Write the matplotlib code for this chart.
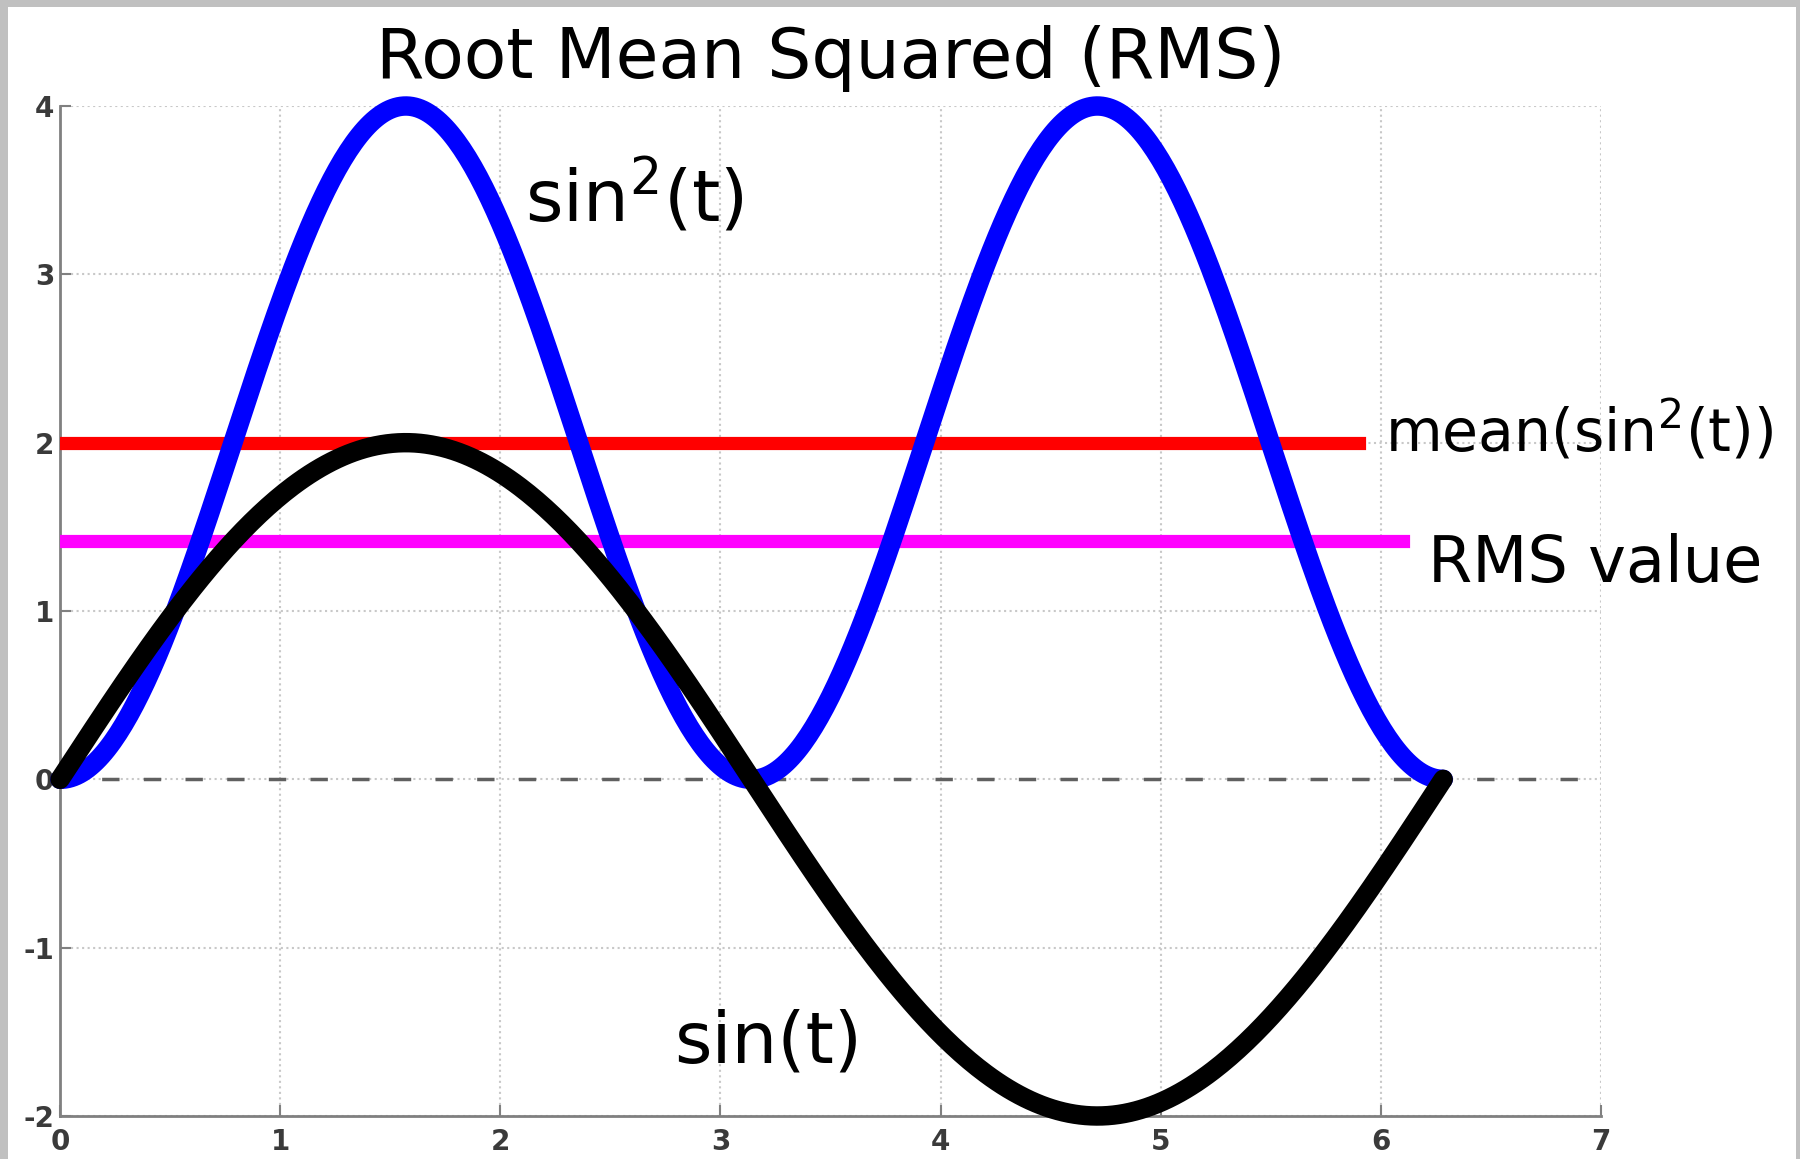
import numpy as np
import matplotlib
matplotlib.use("Agg")
import matplotlib.pyplot as plt
from matplotlib.patches import Rectangle

plt.rcParams['font.family'] = ['DejaVu Sans']
plt.rcParams['mathtext.fontset'] = 'dejavusans'
plt.rcParams['axes.unicode_minus'] = False

# values
t_start = 0.0
t_end = 2 * np.pi
sin_amp = 2.0        # black curve peaks at +/-2
sin2_amp = 4.0       # blue curve peaks at 4
mean_level = 2.0     # red line
rms_level = 1.414    # magenta line
mean_end = 5.9
rms_end = 6.1
zero_end = 6.9

x_ticks = [0, 1, 2, 3, 4, 5, 6, 7]
y_ticks = [-2, -1, 0, 1, 2, 3, 4]

t = np.linspace(t_start, t_end, 500)
sin_t = sin_amp * np.sin(t)
sin2_t = sin2_amp * np.sin(t) ** 2

fig = plt.figure(figsize=(18, 11.59), dpi=100)
fig.patch.set_facecolor('#c0c0c0')
fig.patches.append(Rectangle((8 / 1800, 0), (1796 - 8) / 1800, 1 - 7 / 1159,
                             transform=fig.transFigure, facecolor='white',
                             edgecolor='none', zorder=-10))

ax = fig.add_axes([60 / 1800, 1 - 1116 / 1159, (1601 - 60) / 1800, (1116 - 106) / 1159])
ax.set_facecolor('none')

ax.plot([t_start, zero_end], [0, 0], color='#606060', lw=2.5, dashes=(5, 7), zorder=2)
ax.plot([t_start, mean_end], [mean_level, mean_level], color='#ff0000', lw=9.5, zorder=3)
ax.plot([t_start, rms_end], [rms_level, rms_level], color='#ff00ff', lw=9.5, zorder=3)
ax.plot(t, sin2_t, color='#0000ff', lw=14, solid_capstyle='round', zorder=4, clip_on=False)
ax.plot(t, sin_t, color='black', lw=14, solid_capstyle='round', zorder=5, clip_on=False)

ax.set_xlim(0, 7)
ax.set_ylim(-2, 4)
ax.set_xticks(x_ticks)
ax.set_yticks(y_ticks)
ax.grid(True, color='#c8c8c8', linestyle=':', lw=1.5)
for s in ['top', 'right']:
    ax.spines[s].set_visible(False)
for s in ['left', 'bottom']:
    ax.spines[s].set_color('#808080')
    ax.spines[s].set_linewidth(2)
ax.tick_params(direction='in', length=8, width=1.5, color='#808080',
               labelsize=20, labelcolor='#3a3a3a')
ax.tick_params(axis='x', pad=9)
ax.tick_params(axis='y', pad=4)
for lab in ax.get_xticklabels() + ax.get_yticklabels():
    lab.set_fontweight('bold')

ax.set_title('Root Mean Squared (RMS)', fontsize=50, pad=20)

ax.text(2.11, 3.31, r'sin$^\mathregular{2}$(t)', fontsize=52, va='baseline', ha='left')
ax.text(2.79, -1.68, 'sin(t)', fontsize=52, va='baseline', ha='left')
ax.text(6.02, 1.945, r'mean(sin$^\mathregular{2}$(t))', fontsize=42, va='baseline',
        ha='left', clip_on=False)
ax.text(6.215, 1.172, 'RMS value', fontsize=46, va='baseline', ha='left', clip_on=False)

fig.savefig('out.png', dpi=100, facecolor=fig.get_facecolor())
